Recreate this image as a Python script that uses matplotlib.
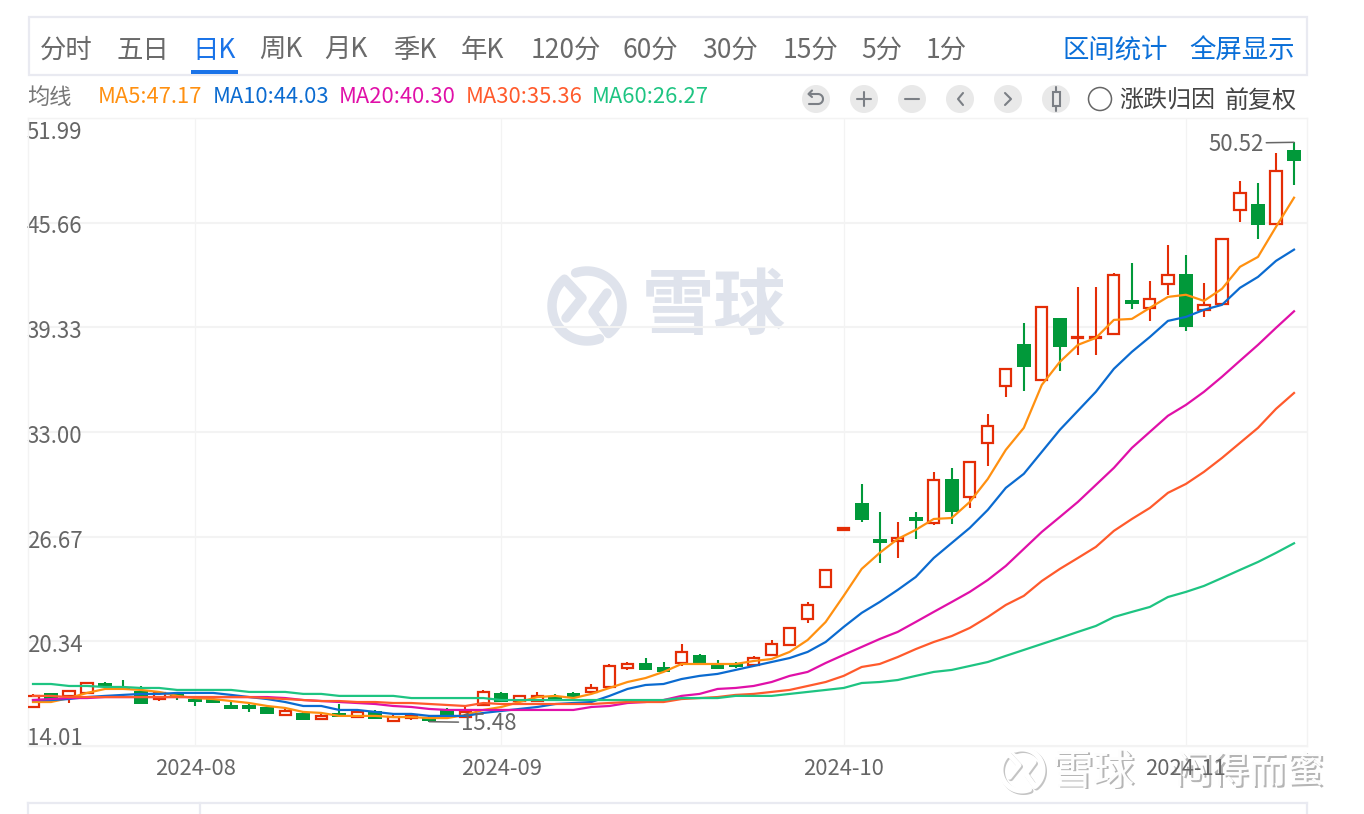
import numpy as np
import matplotlib
matplotlib.use("Agg")
import matplotlib.pyplot as plt
from matplotlib.patches import Rectangle, Circle
from matplotlib.transforms import ScaledTranslation

plt.rcParams['font.family'] = ['Noto Sans CJK SC', 'DejaVu Sans']

# ---------- data ----------
opens = [16.37,17.22,17.04,17.22,17.82,17.52,17.34,16.85,17.16,16.85,16.85,16.49,16.49,16.37,15.89,16.01,15.64,16.01,15.76,16.13,15.52,15.70,15.76,16.25,
         15.76,16.49,17.22,16.73,16.73,17.04,17.22,17.28,17.58,18.73,19.03,18.79,19.03,19.52,18.97,19.03,18.91,19.52,20.12,21.69,23.63,27.08,28.71,26.53,26.41,27.86,
         27.50,30.16,29.07,32.34,35.79,38.33,36.15,39.90,38.66,38.66,38.94,40.99,40.51,41.96,42.57,40.39,40.75,46.44,46.80,45.59,50.07]
closes = [17.04,16.85,17.34,17.82,17.58,17.40,16.55,17.22,16.91,16.67,16.61,16.25,16.25,15.95,16.13,15.58,15.83,15.76,16.07,15.64,15.76,15.83,15.52,15.83,
          16.07,17.28,16.67,17.04,17.04,16.85,16.97,17.52,18.85,18.97,18.61,18.49,19.70,19.03,18.67,18.79,19.33,20.18,21.15,22.54,24.66,27.20,27.68,26.29,26.59,27.62,
          30.10,28.17,31.19,33.37,36.82,36.94,40.57,38.15,38.72,38.72,42.51,40.75,41.05,42.51,39.36,40.69,44.68,47.47,45.53,48.80,49.40]
highs = [17.16,17.22,17.40,17.88,17.88,18.00,17.64,17.22,17.28,16.97,17.04,16.67,16.55,16.37,16.25,16.13,15.95,16.55,16.13,16.19,15.89,15.89,15.89,16.31,
         16.37,17.40,17.28,17.10,17.28,17.16,17.28,17.76,18.97,19.09,19.33,19.09,20.18,19.58,19.21,19.09,19.46,20.42,21.15,22.72,24.66,27.20,29.86,28.17,27.56,28.17,
         30.59,30.83,31.19,34.10,36.82,39.60,40.57,39.90,41.78,41.78,42.63,43.23,42.14,44.32,43.72,42.02,44.68,48.19,48.07,49.89,50.52]
lows = [16.37,16.73,16.61,17.22,17.52,17.40,16.55,16.73,16.79,16.43,16.61,16.25,16.07,15.95,15.89,15.58,15.64,15.76,15.76,15.64,15.52,15.58,15.48,15.83,
        15.76,16.49,16.67,16.73,16.73,16.85,16.97,17.28,17.58,18.61,18.61,18.49,18.85,19.03,18.67,18.73,18.91,19.52,20.12,21.45,23.63,27.08,27.56,25.08,25.38,26.53,
        27.38,27.44,28.41,30.95,35.12,35.49,36.15,36.70,37.67,37.67,38.94,40.45,39.72,41.30,39.12,39.96,40.75,45.71,44.68,45.59,47.95]

ma5 = [16.67,16.67,16.91,17.22,17.46,17.46,17.40,17.28,17.04,16.91,16.85,16.73,16.61,16.43,16.31,16.07,16.01,15.83,15.83,15.83,15.76,15.76,15.70,15.70,
       15.89,16.19,16.37,16.67,16.97,17.04,16.91,17.16,17.52,17.88,18.12,18.49,18.97,18.97,18.97,18.97,19.15,19.27,19.70,20.42,21.51,23.09,24.72,25.69,26.53,27.08,
       27.74,27.80,28.77,30.16,31.92,33.25,35.85,37.24,38.27,38.69,39.78,39.84,40.51,41.17,41.30,40.93,41.66,42.99,43.59,45.41,47.17]
ma10 = [16.79,16.79,16.85,16.97,17.04,17.10,17.16,17.16,17.22,17.22,17.22,17.10,16.97,16.85,16.67,16.43,16.43,16.19,16.19,16.07,15.95,15.95,15.83,15.83,
        15.83,16.01,16.13,16.25,16.37,16.55,16.61,16.67,17.04,17.46,17.70,17.76,18.06,18.25,18.37,18.61,18.85,19.09,19.33,19.70,20.30,21.21,22.06,22.72,23.45,24.23,
        25.38,26.29,27.20,28.29,29.62,30.47,31.80,33.13,34.28,35.43,36.82,37.85,38.75,39.72,39.96,40.39,40.69,41.72,42.38,43.35,44.03]
ma20 = [16.79,16.85,16.91,16.91,16.97,16.97,16.97,16.97,16.97,16.97,16.97,16.97,16.97,16.97,16.91,16.79,16.73,16.67,16.61,16.55,16.43,16.37,16.25,16.19,
        16.19,16.19,16.19,16.19,16.19,16.19,16.19,16.37,16.43,16.61,16.67,16.79,17.04,17.16,17.46,17.52,17.64,17.88,18.25,18.49,19.03,19.52,20.00,20.48,20.91,21.51,
        22.12,22.72,23.33,24.05,24.90,25.93,26.96,27.86,28.77,29.80,30.83,32.04,33.01,33.98,34.64,35.43,36.34,37.31,38.27,39.30,40.30]
ma30 = [17.04,17.04,16.97,16.97,16.97,16.97,16.97,16.97,16.97,16.97,16.97,16.97,16.97,16.91,16.85,16.79,16.73,16.73,16.67,16.67,16.61,16.61,16.55,16.49,
        16.43,16.61,16.55,16.55,16.55,16.55,16.55,16.55,16.61,16.67,16.67,16.67,16.85,16.91,16.97,17.10,17.16,17.28,17.40,17.64,17.88,18.25,18.79,18.97,19.39,19.87,
        20.30,20.66,21.15,21.81,22.54,23.09,23.99,24.72,25.38,26.05,27.02,27.74,28.41,29.32,29.86,30.59,31.43,32.34,33.25,34.40,35.36]
ma60 = [17.76,17.76,17.64,17.64,17.58,17.58,17.52,17.52,17.40,17.40,17.40,17.40,17.28,17.28,17.28,17.16,17.16,17.04,17.04,17.04,17.04,16.91,16.91,16.91,
        16.91,16.91,16.79,16.79,16.79,16.79,16.79,16.79,16.79,16.79,16.79,16.79,16.91,16.91,16.91,17.04,17.04,17.04,17.16,17.28,17.40,17.52,17.82,17.88,18.00,18.25,
        18.49,18.61,18.85,19.09,19.46,19.82,20.18,20.54,20.91,21.27,21.81,22.12,22.42,23.02,23.33,23.69,24.17,24.66,25.14,25.69,26.27]

y_ticks = [14.01, 20.34, 26.67, 33.00, 39.33, 45.66, 51.99]
y_tick_labels = ['14.01', '20.34', '26.67', '33.00', '39.33', '45.66', '51.99']
month_positions = [9, 26, 45, 64]
month_labels = ['2024-08', '2024-09', '2024-10', '2024-11']
tabs = ['分时', '五日', '日K', '周K', '月K', '季K', '年K', '120分', '60分', '30分', '15分', '5分', '1分']
ma_names = ['MA5:47.17', 'MA10:44.03', 'MA20:40.30', 'MA30:35.36', 'MA60:26.27']

# ---------- style ----------
RED, GREEN = '#e42d06', '#01993a'
MA_COLORS = ['#ff9010', '#0b6bd0', '#e010a8', '#ff5a2c', '#1ec482']
GREY, BORDER, GRID, BLUE = '#666666', '#e9eaf1', '#f3f3f3', '#0a6fd8'
WM = '#dfe3ec'
W, H = 1364, 814

fig = plt.figure(figsize=(W / 100, H / 100), dpi=100, facecolor='white')
ax = fig.add_axes([28 / W, 1 - 746 / H, (1307 - 28) / W, (746 - 118) / H], zorder=2)
ax.patch.set_alpha(0)
ax.set_xlim(-0.2776, 70.72)
ax.set_ylim(14.01, 51.99)

x = np.arange(len(opens))
o, c, hi, lo = map(np.array, (opens, closes, highs, lows))
up = c >= o

# wicks
ax.vlines(x[~up], lo[~up], hi[~up], color=GREEN, lw=1.5, zorder=2)
ax.vlines(x[up], lo[up], hi[up], color=RED, lw=1.5, zorder=2)
# bodies
ax.bar(x[~up], (o - c)[~up], bottom=c[~up], width=0.77, color=GREEN, linewidth=0, zorder=3)
ax.bar(x[up], (c - o)[up], bottom=o[up], width=0.62, facecolor='white', edgecolor=RED, linewidth=1.6, zorder=3)

# moving averages
for series, col in zip([ma5, ma10, ma20, ma30, ma60], MA_COLORS):
    ax.plot(x, series, color=col, lw=1.6, zorder=4, solid_joinstyle='round')

# axes
ax.set_yticks(y_ticks, y_tick_labels)
ax.set_xticks(month_positions, month_labels)
ax.grid(True, axis='y', color=GRID, lw=1.5, zorder=0)
ax.grid(True, axis='x', color=GRID, lw=0.9, zorder=0)
ax.set_axisbelow(True)
ax.tick_params(axis='y', length=0, pad=1, labelsize=16, labelcolor=GREY)
ax.tick_params(axis='x', length=0, pad=8.5, labelsize=15.8, labelcolor=GREY)
ylabs = ax.get_yticklabels()
for lab in ylabs:
    lab.set_ha('left')
ylabs[0].set_va('bottom')
ylabs[-1].set_va('top')
for lab, shift_px in zip(ylabs, [4, 2, 2, 1.5, 1.5, 1.5, 3]):
    lab.set_transform(lab.get_transform() + ScaledTranslation(0, -shift_px / 100, fig.dpi_scale_trans))
for s in ax.spines.values():
    s.set_color(GRID)
    s.set_linewidth(1.0)

# extreme value marks
imax, imin = int(np.argmax(hi)), int(np.argmin(lo))
ax.annotate(f'{hi[imax]:.2f}', xy=(x[imax], hi[imax]), xytext=(-22, -1.5), textcoords='offset points',
            ha='right', va='center', fontsize=16, color=GREY, zorder=6,
            arrowprops=dict(arrowstyle='-', color=GREY, lw=1.1, shrinkA=0, shrinkB=0, relpos=(1, 0.57)))
ax.annotate(f'{lo[imin]:.2f}', xy=(x[imin], lo[imin]), xytext=(23, -1.5), textcoords='offset points',
            ha='left', va='center', fontsize=16, color=GREY, zorder=6,
            arrowprops=dict(arrowstyle='-', color=GREY, lw=1.1, shrinkA=0, shrinkB=0, relpos=(0, 0.57)))

# ---------- page furniture, laid out in pixels ----------
ui = fig.add_axes([0, 0, 1, 1], zorder=1)
ui.set_xlim(0, W)
ui.set_ylim(H, 0)
ui.axis('off')
ui.patch.set_alpha(0)


def label(px, py, s, size, color, ha='left', **kw):
    ui.text(px, py, s, fontsize=size, color=color, ha=ha, va='center', **kw)


# tab bar
ui.add_patch(Rectangle((29, 17), 1278, 58, fill=False, ec=BORDER, lw=1.6))
tab_x = [40, 116, 192, 259, 324, 393, 461, 531, 623, 702, 783, 861, 926]
for px, t in zip(tab_x, tabs):
    label(px, 50.5, t, 19, '#1a73e8' if t == '日K' else '#6a6a6a')
ui.add_patch(Rectangle((191, 70), 47, 4, color='#1a73e8', lw=0))
label(1062, 50.5, '区间统计', 19, BLUE)
label(1189, 50.5, '全屏显示', 19, BLUE)

# legend row
label(27, 97, '均线', 16, '#777777')
for px, name, col in zip([98, 213, 339, 466, 592], ma_names, MA_COLORS):
    label(px, 97, name, 15.8, col)

# buttons
bx = [816, 864, 912, 960, 1008, 1056]
for px in bx:
    ui.add_patch(Circle((px, 99), 14, color='#e9e9e9', lw=0))
ik = dict(color='#7b7f85', lw=1.5, solid_capstyle='round', solid_joinstyle='round')
t = np.linspace(-np.pi / 2, np.pi / 2, 20)
ui.plot([809, 818], [94, 94], **ik)
ui.plot(818 + 5 * np.cos(t), 99 + 5 * np.sin(t), **ik)
ui.plot([818, 809], [104, 104], **ik)
ui.plot([812, 808.5, 812], [90.5, 94, 97], **ik)
ui.plot([857, 871], [99, 99], **ik)
ui.plot([864, 864], [92, 106], **ik)
ui.plot([905, 919], [99, 99], **ik)
ui.plot([963, 958, 963], [93, 99, 105], **ik)
ui.plot([1005, 1011, 1005], [93, 99, 105], **ik)
ui.add_patch(Rectangle((1052.5, 92), 7, 14, fill=False, ec='#7b7f85', lw=1.5))
ui.plot([1056, 1056], [87, 92], **ik)
ui.plot([1056, 1056], [106, 111], **ik)
ui.add_patch(Circle((1100, 99), 11.5, fill=False, ec='#666666', lw=1.1))
label(1119, 100.5, '涨跌归因', 17.3, '#444444')
label(1225, 100.5, '前复权', 17.3, '#444444')

# bottom panel edge
ui.plot([28, 1307], [803, 803], color=BORDER, lw=1.6)
ui.plot([28, 28], [803, 814], color=BORDER, lw=1.6)
ui.plot([200, 200], [803, 814], color=BORDER, lw=1.6)
ui.plot([1307, 1307], [803, 814], color=BORDER, lw=1.6)


def logo(cx, cy, k, color, lw, zorder=3):
    kw = dict(color=color, lw=lw, solid_capstyle='round', solid_joinstyle='round', zorder=zorder)
    a = np.radians(np.linspace(-109, 52, 40))
    ui.plot(np.r_[cx + 35 * k * np.cos(a), cx + 6 * k, cx + 20 * k],
            np.r_[cy + 35 * k * np.sin(a), cy + 6 * k, cy - 13 * k], **kw)
    b = np.radians(np.linspace(69, 230, 40))
    ui.plot(np.r_[cx + 35 * k * np.cos(b), cx - 5 * k, cx - 21 * k],
            np.r_[cy + 35 * k * np.sin(b), cy - 8 * k, cy + 12 * k], **kw)


# central watermark
logo(587, 306, 1.0, WM, 6.8)
label(642, 308, '雪球', 52, WM, fontweight='bold')

# corner watermark: white glyphs with a grey shadow
logo(1023.5, 771.5, 0.6, '#c4c4c4', 3.6, zorder=6)
logo(1022, 770, 0.6, 'white', 3.6, zorder=7)
for dx, col, z in [(1.5, '#b5b5b5', 6), (0, '#fdfdfd', 7)]:
    ui.text(1052 + dx, 773 + dx, '雪球', fontsize=30, color=col, ha='left', va='center', fontweight='medium', zorder=z)
    ui.text(1153 + dx, 773 + dx, '·', fontsize=26, color=col, ha='left', va='center', fontweight='medium', zorder=z)
    ui.text(1175 + dx, 773 + dx, '闷得而蜜', fontsize=27, color=col, ha='left', va='center', fontweight='medium', zorder=z)

fig.savefig('out.png', dpi=100, facecolor='white')
